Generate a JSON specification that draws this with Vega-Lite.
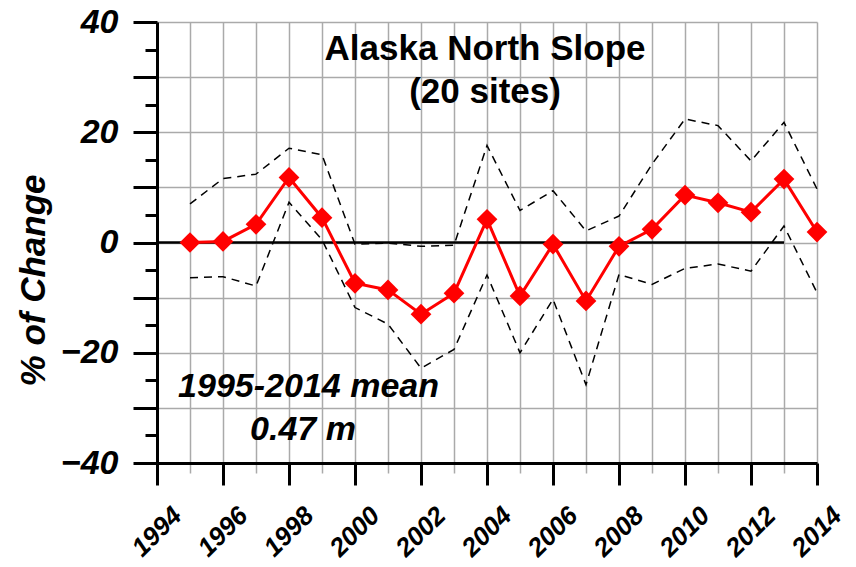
{
  "$schema": "https://vega.github.io/schema/vega-lite/v6.json",
  "width": 660,
  "height": 441,
  "autosize": {"type": "none"},
  "padding": {"left": 157, "top": 22, "right": 39, "bottom": 104},
  "background": "white",
  "config": {"view": {"stroke": null}, "font": "Liberation Sans"},
  "datasets": {
    "change": [
      {"year": 1995, "mean": 0.0, "upper": 7.0, "lower": -6.4},
      {"year": 1996, "mean": 0.2, "upper": 11.6, "lower": -6.2},
      {"year": 1997, "mean": 3.3, "upper": 12.4, "lower": -7.9},
      {"year": 1998, "mean": 11.8, "upper": 17.1, "lower": 7.3},
      {"year": 1999, "mean": 4.5, "upper": 15.9, "lower": 0.5},
      {"year": 2000, "mean": -7.4, "upper": -0.3, "lower": -11.8},
      {"year": 2001, "mean": -8.6, "upper": -0.1, "lower": -14.8},
      {"year": 2002, "mean": -13.0, "upper": -0.7, "lower": -22.8},
      {"year": 2003, "mean": -9.2, "upper": -0.5, "lower": -19.4},
      {"year": 2004, "mean": 4.2, "upper": 17.6, "lower": -5.9},
      {"year": 2005, "mean": -9.7, "upper": 5.8, "lower": -20.0},
      {"year": 2006, "mean": -0.3, "upper": 9.4, "lower": -10.3},
      {"year": 2007, "mean": -10.6, "upper": 2.1, "lower": -25.8},
      {"year": 2008, "mean": -0.7, "upper": 4.8, "lower": -5.8},
      {"year": 2009, "mean": 2.4, "upper": 14.2, "lower": -7.6},
      {"year": 2010, "mean": 8.6, "upper": 22.4, "lower": -4.7},
      {"year": 2011, "mean": 7.2, "upper": 21.2, "lower": -3.9},
      {"year": 2012, "mean": 5.5, "upper": 14.8, "lower": -5.2},
      {"year": 2013, "mean": 11.5, "upper": 21.8, "lower": 3.0},
      {"year": 2014, "mean": 1.9, "upper": 9.7, "lower": -9.1}
    ],
    "baseline": [{"year": 1994}, {"year": 2013}]
  },
  "layer": [
    {
      "data": {"name": "baseline"},
      "mark": {"type": "line", "color": "black", "strokeWidth": 2.5},
      "encoding": {
        "x": {
          "field": "year", "type": "quantitative",
          "scale": {"domain": [1994, 2014], "nice": false, "zero": false},
          "axis": {
            "orient": "bottom", "title": null,
            "values": [1994, 1995, 1996, 1997, 1998, 1999, 2000, 2001, 2002, 2003, 2004, 2005, 2006, 2007, 2008, 2009, 2010, 2011, 2012, 2013, 2014],
            "grid": true, "gridColor": "#aaaaaa", "gridWidth": 1.5,
            "ticks": true, "tickSize": 10, "tickColor": "#aaaaaa", "tickWidth": 1.5,
            "labels": false, "domain": false
          }
        },
        "y": {
          "datum": 0, "type": "quantitative",
          "scale": {"domain": [-40, 40], "nice": false},
          "axis": {
            "orient": "left",
            "values": [-40, -30, -20, -10, 0, 10, 20, 30, 40],
            "grid": true, "gridColor": "#aaaaaa", "gridWidth": 1.5,
            "tickSize": 24, "tickColor": "black", "tickWidth": 3,
            "domain": true, "domainColor": "black", "domainWidth": 3,
            "labelExpr": "datum.value % 20 == 0 ? datum.label : ''",
            "labelFont": "Liberation Sans", "labelFontSize": 34, "labelFontWeight": "bold", "labelFontStyle": "italic",
            "labelColor": "black", "labelPadding": 15,
            "title": "% of Change",
            "titleFont": "Liberation Sans", "titleFontSize": 35, "titleFontWeight": "bold", "titleFontStyle": "italic",
            "titleColor": "black", "titleX": -124, "titleY": 258, "titleAlign": "center", "titleBaseline": "middle", "titleAngle": -90
          }
        }
      }
    },
    {
      "data": {"name": "change"},
      "mark": {"type": "line", "color": "black", "strokeWidth": 1.5, "strokeDash": [8, 6]},
      "encoding": {
        "x": {
          "field": "year", "type": "quantitative",
          "axis": {
            "orient": "bottom", "title": null,
            "values": [1994, 1996, 1998, 2000, 2002, 2004, 2006, 2008, 2010, 2012, 2014],
            "format": "d", "grid": false,
            "tickSize": 22, "tickColor": "black", "tickWidth": 3,
            "domain": true, "domainColor": "black", "domainWidth": 3,
            "labelFont": "Liberation Sans", "labelFontSize": 26, "labelFontWeight": "bold", "labelFontStyle": "italic",
            "labelColor": "black", "labelAngle": -45, "labelAlign": "right", "labelBaseline": "middle",
            "labelPadding": 26, "labelOffset": 20, "labelFlush": false, "labelOverlap": false
          }
        },
        "y": {
          "field": "upper", "type": "quantitative",
          "axis": {
            "orient": "left", "title": null,
            "values": [-35, -25, -15, -5, 5, 15, 25, 35],
            "grid": false, "labels": false, "domain": false,
            "tickSize": 12, "tickColor": "black", "tickWidth": 3
          }
        }
      }
    },
    {
      "data": {"name": "change"},
      "mark": {"type": "line", "color": "black", "strokeWidth": 1.5, "strokeDash": [8, 6]},
      "encoding": {
        "x": {"field": "year", "type": "quantitative", "axis": null},
        "y": {"field": "lower", "type": "quantitative", "axis": null}
      }
    },
    {
      "data": {"name": "change"},
      "mark": {
        "type": "line", "color": "#ff0000", "strokeWidth": 3,
        "point": {"shape": "diamond", "size": 430, "filled": true, "color": "#ff0000", "opacity": 1}
      },
      "encoding": {
        "x": {"field": "year", "type": "quantitative", "axis": null},
        "y": {"field": "mean", "type": "quantitative", "axis": null}
      }
    },
    {
      "data": {"values": [{"note": "Alaska North Slope"}]},
      "mark": {"type": "text", "font": "Liberation Sans", "fontSize": 35, "fontWeight": "bold", "align": "center", "baseline": "alphabetic", "color": "black"},
      "encoding": {
        "x": {"datum": 2003.94, "type": "quantitative", "axis": null},
        "y": {"datum": 33.1, "type": "quantitative", "axis": null},
        "text": {"field": "note"}
      }
    },
    {
      "data": {"values": [{"note": "(20 sites)"}]},
      "mark": {"type": "text", "font": "Liberation Sans", "fontSize": 35, "fontWeight": "bold", "align": "center", "baseline": "alphabetic", "color": "black"},
      "encoding": {
        "x": {"datum": 2003.94, "type": "quantitative", "axis": null},
        "y": {"datum": 25.3, "type": "quantitative", "axis": null},
        "text": {"field": "note"}
      }
    },
    {
      "data": {"values": [{"note": "1995-2014 mean"}]},
      "mark": {"type": "text", "font": "Liberation Sans", "fontSize": 34, "fontWeight": "bold", "fontStyle": "italic", "align": "left", "baseline": "alphabetic", "color": "black"},
      "encoding": {
        "x": {"datum": 1994.64, "type": "quantitative", "axis": null},
        "y": {"datum": -28.0, "type": "quantitative", "axis": null},
        "text": {"field": "note"}
      }
    },
    {
      "data": {"values": [{"note": "0.47 m"}]},
      "mark": {"type": "text", "font": "Liberation Sans", "fontSize": 34, "fontWeight": "bold", "fontStyle": "italic", "align": "left", "baseline": "alphabetic", "color": "black"},
      "encoding": {
        "x": {"datum": 1996.82, "type": "quantitative", "axis": null},
        "y": {"datum": -35.8, "type": "quantitative", "axis": null},
        "text": {"field": "note"}
      }
    }
  ],
  "resolve": {"axis": {"x": "independent", "y": "independent"}}
}
